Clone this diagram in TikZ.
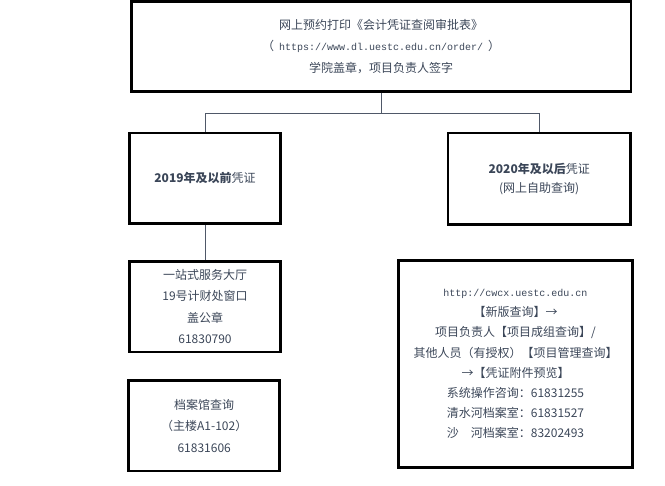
\documentclass[tikz,border=0pt]{standalone}
\usepackage{fontspec}
\setmainfont{Noto Sans CJK SC}
\newfontfamily\urlfont{Liberation Mono}
\definecolor{txt}{HTML}{3B4658}
\definecolor{conn}{HTML}{4F5868}
\begin{document}
\begin{tikzpicture}[x=1pt,y=-1pt,
  box/.style={draw=black, line width=2.5pt, inner sep=0pt, align=center, text=txt,
    font=\fontsize{12}{21.5}\selectfont},
  link/.style={draw=conn, line width=0.9pt}]
\useasboundingbox (0,0) rectangle (665,486);
\node[box, minimum width=499.5pt, minimum height=90pt] (top) at (381.2,46.5)
  {网上预约打印《会计凭证查阅审批表》\\
   （\hspace{5pt}{\urlfont\fontsize{10}{21.5}\selectfont https://www.dl.uestc.edu.cn/order/}\hspace{5pt}）\\
   学院盖章，项目负责人签字};
\node[box, minimum width=151pt, minimum height=90.7pt] (old) at (205,178.3)
  {{\bfseries 2019年及以前}凭证};
\node[box, minimum width=182.3pt, minimum height=91.3pt,
  font=\fontsize{12}{19}\selectfont] (new) at (539.2,178.7)
  {{\bfseries 2020年及以后}凭证\\(网上自助查询)};
\node[box, minimum width=150.6pt, minimum height=90.7pt] (hall) at (205,306.7)
  {一站式服务大厅\\19号计财处窗口\\盖公章\\61830790};
\node[box, minimum width=151pt, minimum height=90.5pt] (arch) at (204.2,426)
  {档案馆查询\\（主楼A1-102）\\61831606};
\node[box, minimum width=233.6pt, minimum height=206.6pt,
  font=\fontsize{12}{20.1}\selectfont] (web) at (515.5,364)
  {{\urlfont\fontsize{10}{20.1}\selectfont http://cwcx.uestc.edu.cn}\\
   【新版查询】→\\
   项目负责人【项目成组查询】/\\
   其他人员（有授权）【项目管理查询】\\
   →【凭证附件预览】\\
   系统操作咨询：61831255\\
   清水河档案室：61831527\\
   沙　河档案室：83202493};
\coordinate (j) at (381.7,113);
\draw[link] (top.south -| j) -- (j);
\draw[link] (old.north) -- (old.north |- j) -- (new.north |- j) -- (new.north);
\draw[link] (old.south) -- (hall.north);
\end{tikzpicture}
\end{document}
